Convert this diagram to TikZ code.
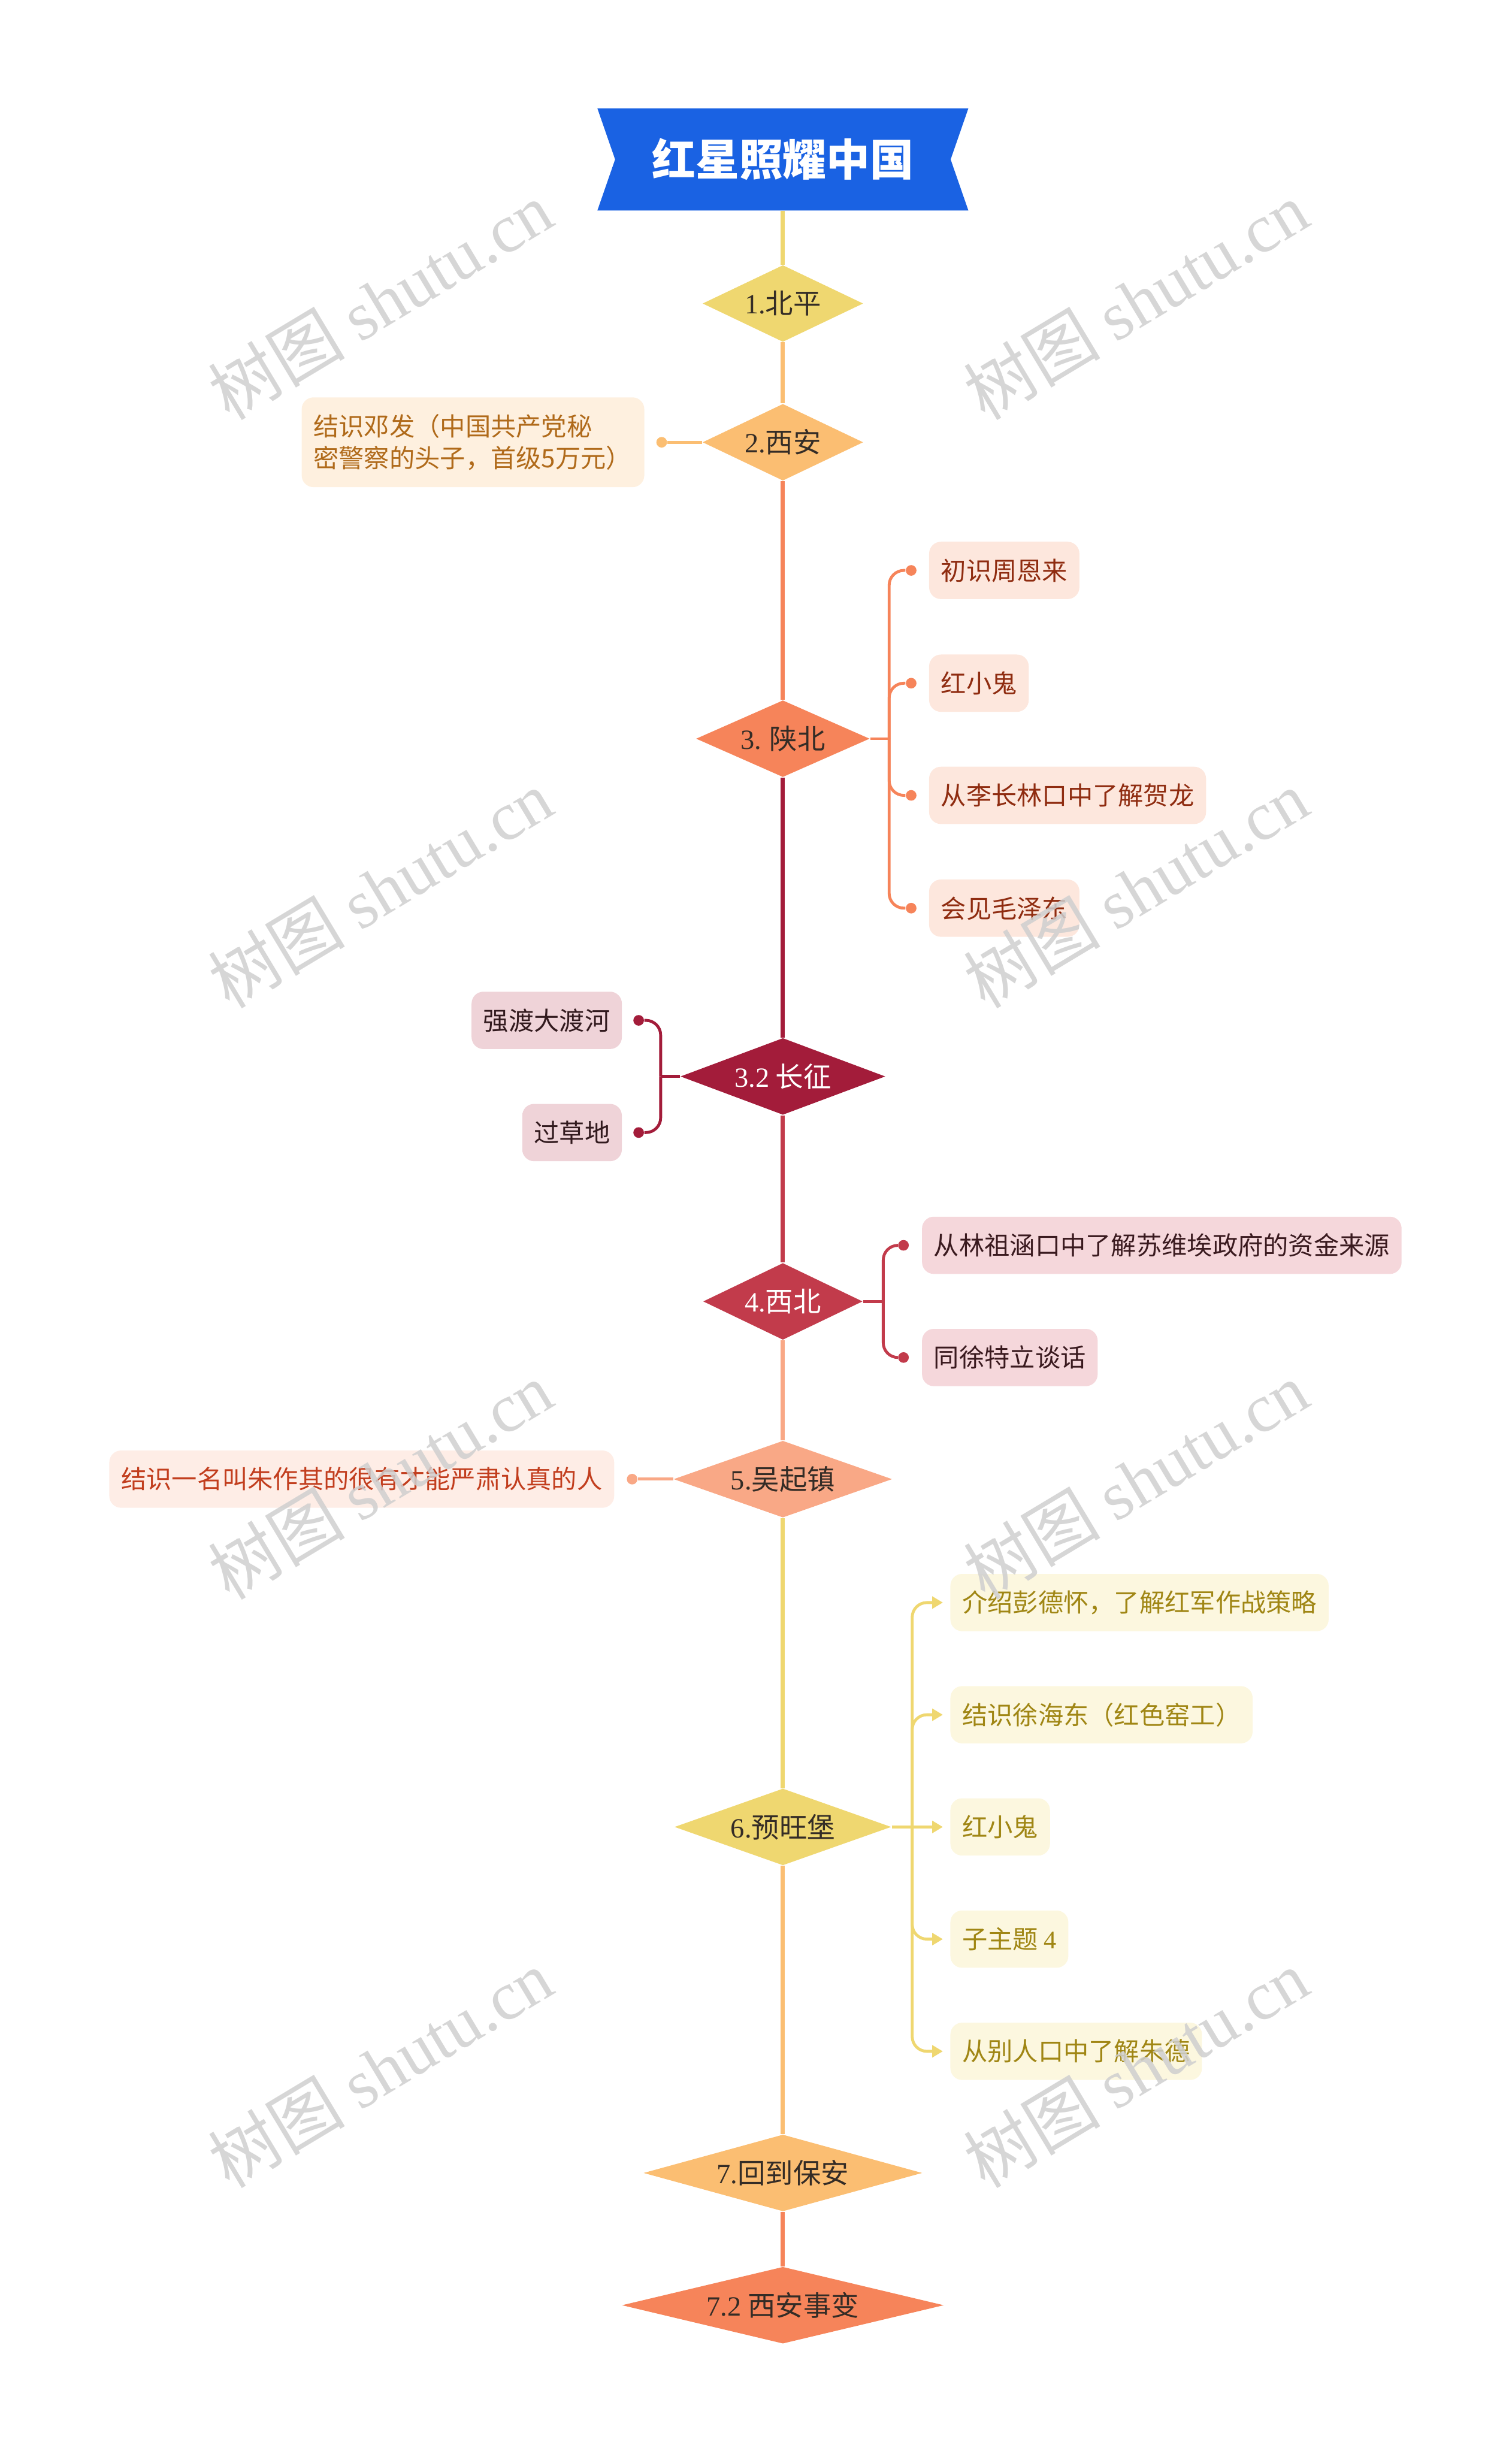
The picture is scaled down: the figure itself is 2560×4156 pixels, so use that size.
\documentclass[tikz,border=0pt]{standalone}
\usepackage{fontspec}
\setmainfont{Noto Sans CJK SC}
\newfontfamily\numfont{Liberation Serif}
\usetikzlibrary{shapes.geometric,arrows.meta,positioning}

\definecolor{cblue}{HTML}{1A62E3}
\definecolor{cyellow}{HTML}{EFD770}
\definecolor{clorange}{HTML}{FBBE72}
\definecolor{corange}{HTML}{F6845A}
\definecolor{cdarkred}{HTML}{A31C3A}
\definecolor{ccrimson}{HTML}{C23B4B}
\definecolor{csalmon}{HTML}{F9A886}
\definecolor{ctext}{HTML}{342C26}
\definecolor{cmark}{HTML}{CFCFCF}
\definecolor{fill2}{HTML}{FEF0DF}
\definecolor{text2}{HTML}{B06A1A}
\definecolor{fill3}{HTML}{FDE7DD}
\definecolor{text3}{HTML}{8F2C10}
\definecolor{fill32}{HTML}{EFD3D8}
\definecolor{text32}{HTML}{321A1E}
\definecolor{fill4}{HTML}{F5D7DB}
\definecolor{text4}{HTML}{3A1A1F}
\definecolor{fill5}{HTML}{FEEDE6}
\definecolor{text5}{HTML}{C23E1E}
\definecolor{fill6}{HTML}{FCF7DF}
\definecolor{text6}{HTML}{A08614}

\begin{document}
\begin{tikzpicture}[x=0.01cm, y=-0.01cm,
  banner/.style={minimum width=6.28cm, minimum height=1.73cm, text=white,
    font=\fontsize{21}{25}\selectfont\bfseries,
    path picture={\fill[cblue] (path picture bounding box.north west) -- (path picture bounding box.north east)
      -- ([xshift=-0.3cm]path picture bounding box.east) -- (path picture bounding box.south east)
      -- (path picture bounding box.south west) -- ([xshift=0.3cm]path picture bounding box.west) -- cycle;}},
  stage/.style={diamond, inner sep=0pt, minimum height=1.3cm, text=ctext, font=\fontsize{13.4}{16}\selectfont},
  leaf/.style={rounded corners=0.2cm, inner xsep=0.2cm, inner ysep=0pt, minimum height=0.97cm,
    font=\fontsize{12.2}{15.1}\selectfont},
  trunk/.style={line width=2pt},
  branch/.style={line width=1.4pt, rounded corners=0.25cm},
  tipdot/.style={circle, inner sep=0pt, minimum size=0.18cm},
  tiparrow/.style={-{Triangle[length=0.18cm,width=0.2cm]}, shorten >=0.12cm},
  wmark/.style={text=cmark, opacity=0.85, rotate=31, font=\fontsize{33}{40}\selectfont}
]
\useasboundingbox (0,0) rectangle (2560,4156);

% Define coordinates
\coordinate (j3) at (1506,1251); % junction of 3
\coordinate (j32) at (1119,1823); % junction of 3.2
\coordinate (j4) at (1496,2204); % junction of 4
\coordinate (j6) at (1545,3094); % junction of 6

% Title and stages
\node[banner] (title) at (1326,270) {红星照耀中国};
\node[stage, fill=cyellow, minimum width=2.72cm, aspect=2.1] (s1) at (1326,514) {{\numfont 1.}北平};
\node[stage, fill=clorange, minimum width=2.72cm, aspect=2.1] (s2) at (1326,749) {{\numfont 2.}西安};
\node[stage, fill=corange, minimum width=2.94cm, aspect=2.26] (s3) at (1326,1251) {{\numfont 3.} 陕北};
\node[stage, fill=cdarkred, text=white, minimum width=3.47cm, aspect=2.67] (s32) at (1326,1823) {{\numfont 3.2} 长征};
\node[stage, fill=ccrimson, text=white, minimum width=2.7cm, aspect=2.08] (s4) at (1326,2204) {{\numfont 4.}西北};
\node[stage, fill=csalmon, minimum width=3.7cm, aspect=2.85] (s5) at (1326,2505) {{\numfont 5.}吴起镇};
\node[stage, fill=cyellow, minimum width=3.67cm, aspect=2.82] (s6) at (1326,3094) {{\numfont 6.}预旺堡};
\node[stage, fill=clorange, minimum width=4.72cm, aspect=3.63] (s7) at (1326,3680) {{\numfont 7.}回到保安};
\node[stage, fill=corange, minimum width=5.45cm, aspect=4.19] (s72) at (1326,3904) {{\numfont 7.2} 西安事变};

% Draw trunk
\draw[trunk, cyellow] (title.south) -- (s1.north);
\draw[trunk, clorange] (s1.south) -- (s2.north);
\draw[trunk, corange] (s2.south) -- (s3.north);
\draw[trunk, cdarkred] (s3.south) -- (s32.north);
\draw[trunk, ccrimson] (s32.south) -- (s4.north);
\draw[trunk, csalmon] (s4.south) -- (s5.north);
\draw[trunk, cyellow] (s5.south) -- (s6.north);
\draw[trunk, clorange] (s6.south) -- (s7.north);
\draw[trunk, corange] (s7.south) -- (s72.north);

% Leaves of 2
\node[leaf, fill=fill2, text=text2, minimum height=1.52cm, text width=5.4cm, align=left, anchor=east] (b2) at (1092,749)
  {结识邓发（中国共产党秘\\密警察的头子，首级5万元）};
\node[tipdot, fill=clorange, right=0.19cm of b2] (d2) {};
\draw[branch, clorange] (s2.west) -- (d2);

% Leaves of 3
\node[leaf, fill=fill3, text=text3, anchor=west] (b31) at (1573,966) {初识周恩来};
\node[leaf, fill=fill3, text=text3, anchor=west] (b32) at (1573,1157) {红小鬼};
\node[leaf, fill=fill3, text=text3, anchor=west] (b33) at (1573,1347) {从李长林口中了解贺龙};
\node[leaf, fill=fill3, text=text3, anchor=west] (b34) at (1573,1538) {会见毛泽东};
\foreach \n in {31,32,33,34}
  \node[tipdot, fill=corange, left=0.2cm of b\n] (d\n) {};
\draw[branch, corange] (s3.east) -- (j3);
\foreach \n in {31,32,33,34}
  \draw[branch, corange] (j3) |- (d\n);

% Leaves of 3.2
\node[leaf, fill=fill32, text=text32, anchor=east] (b321) at (1054,1728) {强渡大渡河};
\node[leaf, fill=fill32, text=text32, anchor=east] (b322) at (1054,1918) {过草地};
\foreach \n in {321,322}
  \node[tipdot, fill=cdarkred, right=0.18cm of b\n] (d\n) {};
\draw[branch, cdarkred] (s32.west) -- (j32);
\foreach \n in {321,322}
  \draw[branch, cdarkred] (j32) |- (d\n);

% Leaves of 4
\node[leaf, fill=fill4, text=text4, anchor=west] (b41) at (1561,2109) {从林祖涵口中了解苏维埃政府的资金来源};
\node[leaf, fill=fill4, text=text4, anchor=west] (b42) at (1561,2299) {同徐特立谈话};
\foreach \n in {41,42}
  \node[tipdot, fill=ccrimson, left=0.21cm of b\n] (d\n) {};
\draw[branch, ccrimson] (s4.east) -- (j4);
\foreach \n in {41,42}
  \draw[branch, ccrimson] (j4) |- (d\n);

% Leaves of 5
\node[leaf, fill=fill5, text=text5, anchor=east] (b51) at (1041,2505) {结识一名叫朱作其的很有才能严肃认真的人};
\node[tipdot, fill=csalmon, right=0.2cm of b51] (d51) {};
\draw[branch, csalmon] (s5.west) -- (d51);

% Leaves of 6
\node[leaf, fill=fill6, text=text6, anchor=west] (b61) at (1609,2714) {介绍彭德怀，了解红军作战策略};
\node[leaf, fill=fill6, text=text6, anchor=west] (b62) at (1609,2904) {结识徐海东（红色窑工）};
\node[leaf, fill=fill6, text=text6, anchor=west] (b63) at (1609,3094) {红小鬼};
\node[leaf, fill=fill6, text=text6, anchor=west] (b64) at (1609,3284) {子主题 {\numfont 4}};
\node[leaf, fill=fill6, text=text6, anchor=west] (b65) at (1609,3474) {从别人口中了解朱德};
\draw[branch, cyellow] (s6.east) -- (j6);
\draw[branch, cyellow, tiparrow] (s6.east) -- (b63);
\foreach \n in {61,62,64,65}
  \draw[branch, cyellow, tiparrow] (j6) |- (b\n);

% Watermarks
\foreach \x in {644,1924}
  \foreach \y in {509,1505,2507,3503}
    \node[wmark] (wm-\x-\y) at (\x,\y) {树图 {\numfont shutu.cn}};

\end{tikzpicture}
\end{document}
